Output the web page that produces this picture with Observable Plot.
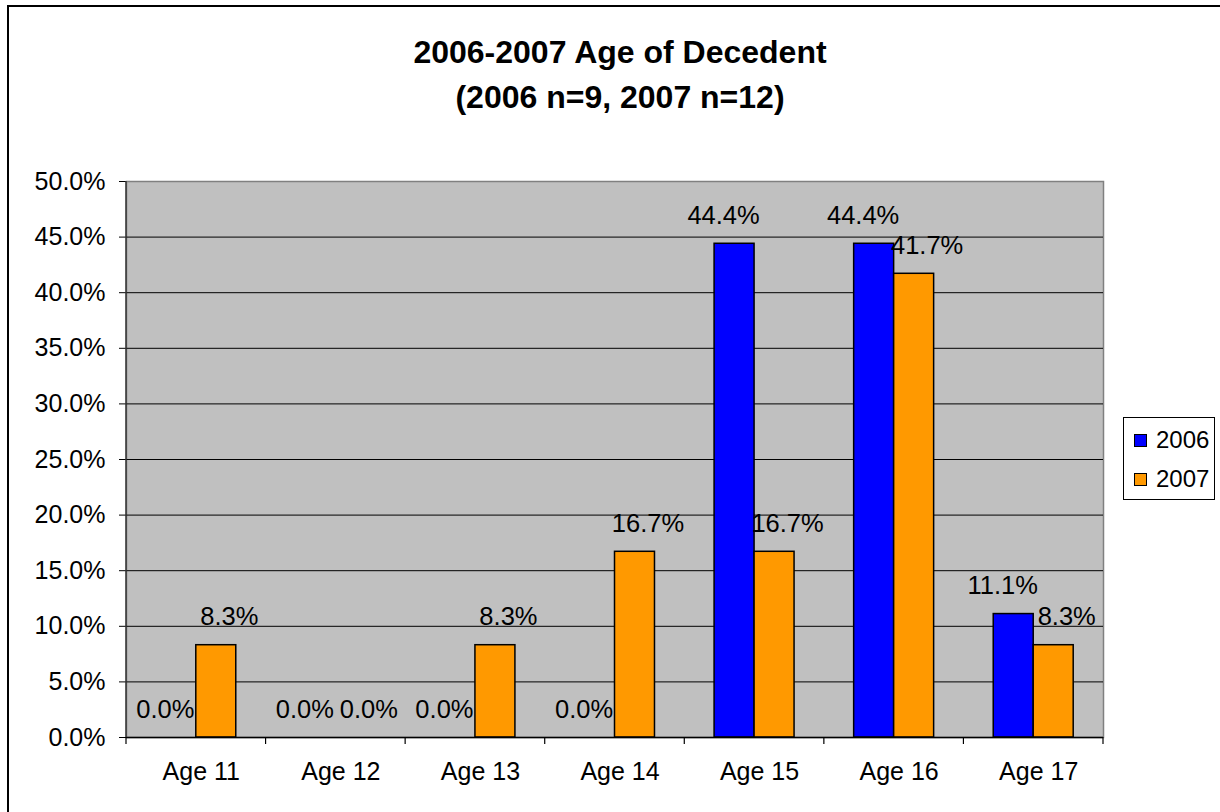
<!DOCTYPE html>
<html>
<head>
<meta charset="utf-8">
<script src="https://cdn.jsdelivr.net/npm/d3@7"></script>
<script src="https://cdn.jsdelivr.net/npm/@observablehq/plot@0.6"></script>
<style>
  html, body { margin: 0; padding: 0; background: #fff; overflow: hidden; }
  body { width: 1220px; height: 812px; position: relative; font-family: "Liberation Sans", Arial, sans-serif; color: #000; }
  #border { position: absolute; left: 7px; top: 5px; width: 1400px; height: 1000px; border-left: 2px solid #000; border-top: 2px solid #000; }
  #title { position: absolute; left: 0; top: 30px; width: 1240px; text-align: center; font-weight: bold; font-size: 32px; line-height: 45px; }
  #chart { position: absolute; left: 0; top: 140px; }
  #legend { position: absolute; left: 1123px; top: 417px; width: 92px; height: 83px; border: 1px solid #000; background: #fff; box-sizing: border-box; font-size: 24px; }
  .row { position: absolute; left: 0; height: 28px; display: flex; align-items: center; }
  .sw { width: 11px; height: 11px; border: 1.5px solid #000; margin-left: 10px; margin-right: 9px; }
</style>
</head>
<body>
<div id="border"></div>
<div id="title">2006-2007 Age of Decedent<br>(2006 n=9, 2007 n=12)</div>
<div id="chart"></div>
<div id="legend"></div>
<script>
const categories = ["Age 11", "Age 12", "Age 13", "Age 14", "Age 15", "Age 16", "Age 17"];
const series = ["2006", "2007"];
const values2006 = [0.0, 0.0, 0.0, 0.0, 0.444, 0.444, 0.111];
const values2007 = [0.083, 0.0, 0.083, 0.167, 0.167, 0.417, 0.083];
const yTicks = [0, 0.05, 0.10, 0.15, 0.20, 0.25, 0.30, 0.35, 0.40, 0.45, 0.50];
const colors = ["#0000FF", "#FF9900"];

const d2006 = categories.map((c, i) => ({age: c, value: values2006[i]}));
const d2007 = categories.map((c, i) => ({age: c, value: values2007[i]}));

const W = 1220, H = 672;
const mL = 126, mR = 117, mT = 41, mB = 75;
const pInner = 0.427;
const step = (W - mL - mR) / categories.length;
const bw = step * (1 - pInner);
const fmt = d3.format(".1%");
const font = "Liberation Sans, Arial, sans-serif";

const plot = Plot.plot({
  width: W, height: H,
  marginLeft: mL, marginRight: mR, marginTop: mT, marginBottom: mB,
  style: {fontFamily: font, color: "#000", background: "transparent", overflow: "visible"},
  x: {domain: categories, type: "band", paddingInner: pInner, paddingOuter: pInner / 2, align: 0.5, round: false},
  y: {domain: [0, 0.5]},
  marks: [
    Plot.frame({fill: "#C0C0C0", stroke: "#808080", strokeWidth: 1.5}),
    Plot.gridY(yTicks.filter(v => v > 0 && v < 0.5), {stroke: "#000", strokeOpacity: 1, strokeWidth: 1}),
    Plot.barY(d2006, {x: "age", y: "value", fill: colors[0], stroke: "#000", strokeWidth: 1.5, insetLeft: 0, insetRight: bw / 2}),
    Plot.barY(d2007, {x: "age", y: "value", fill: colors[1], stroke: "#000", strokeWidth: 1.5, insetLeft: bw / 2, insetRight: 0}),
    Plot.ruleY([0], {stroke: "#000", strokeWidth: 1.5}),
    Plot.text(d2006, {x: "age", y: "value", text: d => fmt(d.value), dx: -bw / 4 - 11, dy: -28, fontSize: 25.5, fill: "#000"}),
    Plot.text(d2007, {x: "age", y: "value", text: d => fmt(d.value), dx: bw / 4 + 13, dy: -28, fontSize: 25.5, fill: "#000"}),
    Plot.axisY({ticks: yTicks, tickFormat: fmt, tickSize: 7, tickPadding: 14, fontSize: 25, label: null, stroke: "#000"}),
    Plot.axisX({tickSize: 0, tickPadding: 25, fontSize: 25, label: null, dx: 5})
  ]
});
document.getElementById("chart").appendChild(plot);

// category boundary ticks and left axis line derived from the x scale
const xs = plot.scale("x");
const ys = plot.scale("y");
const [r0, r1] = xs.range;
const y0 = ys.apply(0), yTop = ys.apply(0.5);
const svg = d3.select(plot);
const g = svg.append("g").attr("stroke", "#000").attr("stroke-width", 1.2);
for (let i = 0; i <= categories.length; i++) {
  const xx = r0 + i * (r1 - r0) / categories.length;
  g.append("line").attr("x1", xx).attr("x2", xx).attr("y1", y0).attr("y2", y0 + 7);
}
svg.append("line").attr("x1", r0).attr("x2", r0).attr("y1", yTop).attr("y2", y0)
  .attr("stroke", "#333").attr("stroke-width", 1.5);

// legend
const leg = document.getElementById("legend");
series.forEach((s, i) => {
  const row = document.createElement("div");
  row.className = "row";
  row.style.top = (8 + i * 39) + "px";
  const sw = document.createElement("div");
  sw.className = "sw";
  sw.style.background = colors[i];
  const t = document.createElement("span");
  t.textContent = s;
  row.appendChild(sw); row.appendChild(t);
  leg.appendChild(row);
});
</script>
</body>
</html>
